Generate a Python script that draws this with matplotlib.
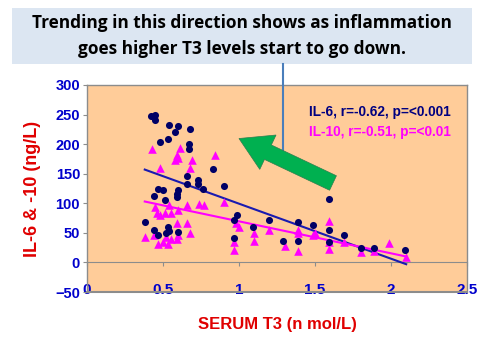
import matplotlib
matplotlib.use("Agg")
import matplotlib.pyplot as plt
import matplotlib.patches as mpatches
from matplotlib.transforms import IdentityTransform

# ---- data ----
il6_x = [0.42, 0.45, 0.45, 0.54, 0.60, 0.58, 0.68, 0.48, 0.53, 0.67, 0.67, 0.83,
         0.66, 0.66, 0.73, 0.73, 0.76, 0.90, 0.47, 0.50, 0.60, 0.59, 0.44, 0.51, 0.59,
         0.38, 0.44, 0.47, 0.53, 0.54, 0.60, 0.52, 0.99, 0.97, 0.97, 1.09, 1.20,
         1.59, 1.39, 1.49, 1.59, 1.69, 1.29, 1.39, 1.59, 1.80, 1.89, 2.09]
il6_y = [248, 250, 241, 233, 231, 221, 225, 203, 208, 200, 191, 158,
         146, 133, 139, 132, 124, 130, 125, 122, 122, 116, 112, 105, 110,
         68, 55, 47, 60, 53, 51, 50, 80, 71, 41, 60, 71,
         107, 68, 64, 54, 47, 37, 37, 34, 24, 24, 21]

il10_x = [0.43, 0.61, 0.59, 0.58, 0.60, 0.69, 0.68, 0.84, 0.48, 0.90,
          0.45, 0.46, 0.48, 0.51, 0.55, 0.54, 0.60, 0.66, 0.74, 0.77,
          0.38, 0.44, 0.47, 0.50, 0.53, 0.52, 0.59, 0.59, 0.66, 0.68, 0.60, 0.55,
          0.98, 1.00, 0.97, 0.97, 1.10, 1.10, 1.20, 1.30, 1.39, 1.39, 1.39, 1.50,
          1.59, 1.49, 1.59, 1.59, 1.69, 1.80, 1.89, 1.99, 2.10]
il10_y = [192, 193, 181, 173, 176, 173, 159, 181, 160, 102,
          94, 83, 80, 83, 83, 97, 88, 97, 99, 97,
          43, 46, 32, 34, 32, 43, 66, 40, 66, 49, 46, 40,
          66, 60, 34, 21, 49, 37, 55, 27, 54, 49, 19, 49,
          70, 47, 34, 23, 34, 17, 20, 33, 10]

fit_x = [0.38, 2.10]
il6_fit = [157, -3]
il10_fit = [103, 10]

xticks = [0, 0.5, 1, 1.5, 2, 2.5]
xtick_labels = ["0", "0.5", "1", "1.5", "2", "2.5"]
yticks = [-50, 0, 50, 100, 150, 200, 250, 300]

title_text = "Trending in this direction shows as inflammation\ngoes higher T3 levels start to go down."
legend_il6 = "IL-6, r=-0.62, p=<0.001"
legend_il10 = "IL-10, r=-0.51, p=<0.01"

# ---- figure ----
W, H = 480, 360
fig = plt.figure(figsize=(4.8, 3.6), dpi=100)
fig.patch.set_facecolor("white")

ax = fig.add_axes([87 / W, 1 - 292 / H, 380 / W, 207 / H])
ax.set_facecolor("#FFCC99")
ax.set_xlim(0, 2.5)
ax.set_ylim(-50, 300)

ax.plot(fit_x, il6_fit, color="#1A1AB0", lw=1.5, zorder=3)
ax.plot(fit_x, il10_fit, color="#FF00FF", lw=1.5, zorder=3)
ax.scatter(il10_x, il10_y, marker="^", s=38, color="#FF00FF", zorder=4, linewidths=0)
ax.scatter(il6_x, il6_y, marker="o", s=26, color="#000066", zorder=5, linewidths=0)

for s in ["top", "right", "left"]:
    ax.spines[s].set_color("#8C8C8C")
    ax.spines[s].set_linewidth(1.0)
ax.spines["bottom"].set_position(("data", 0))
ax.spines["bottom"].set_color("#8C8C8C")
ax.axhline(-50, color="#8C8C8C", lw=1.5, zorder=6, clip_on=False)

ax.set_xticks(xticks)
ax.set_xticklabels(xtick_labels)
ax.set_yticks(yticks)
ax.tick_params(axis="x", direction="out", length=3, color="#8C8C8C", pad=12,
               labelsize=11, labelcolor="#0000CC")
ax.tick_params(axis="y", direction="out", length=3, color="#8C8C8C", pad=2,
               labelsize=10.5, labelcolor="#0000CC")
for lab in ax.get_xticklabels() + ax.get_yticklabels():
    lab.set_fontfamily("Liberation Sans")
    lab.set_fontweight("bold")

ax.set_ylabel("IL-6 & -10 (ng/L)", color="#E00000", fontsize=13, fontweight="bold",
              family="Liberation Sans", labelpad=10)
fig.text(277 / W, 1 - 325 / H, "SERUM T3 (n mol/L)", color="#E00000", fontsize=12,
         fontweight="bold", family="Liberation Sans", ha="center", va="center")

ax.text(0.957, 0.87, legend_il6, transform=ax.transAxes, ha="right", va="center",
        color="#000080", fontsize=9.8, family="Liberation Sans", fontweight="bold")
ax.text(0.957, 0.775, legend_il10, transform=ax.transAxes, ha="right", va="center",
        color="#FF00FF", fontsize=9.8, family="Liberation Sans", fontweight="bold")

# title box
box = mpatches.Rectangle((12, H - 64), 460, 56, transform=IdentityTransform(),
                         facecolor="#DCE6F2", edgecolor="none", zorder=1)
fig.patches.append(box)
fig.text(242 / W, 1 - 36 / H, title_text, ha="center", va="center", fontsize=12.4,
         fontweight="bold", family="Open Sans", color="black", linespacing=1.5)

# connector line
line = plt.Line2D([283, 283], [H - 64, H - 152], transform=IdentityTransform(),
                  color="#4A7EBB", lw=1.5, zorder=2)
fig.lines.append(line)

# green arrow
arrow = mpatches.FancyArrow(333, H - 183, -93 * 0.70, 44 * 0.70, width=16,
                            head_width=38, head_length=32, length_includes_head=False,
                            transform=IdentityTransform(), facecolor="#00B050",
                            edgecolor="#2E7D4F", lw=0.5, zorder=10)
fig.patches.append(arrow)

fig.savefig("out.png", dpi=100)
